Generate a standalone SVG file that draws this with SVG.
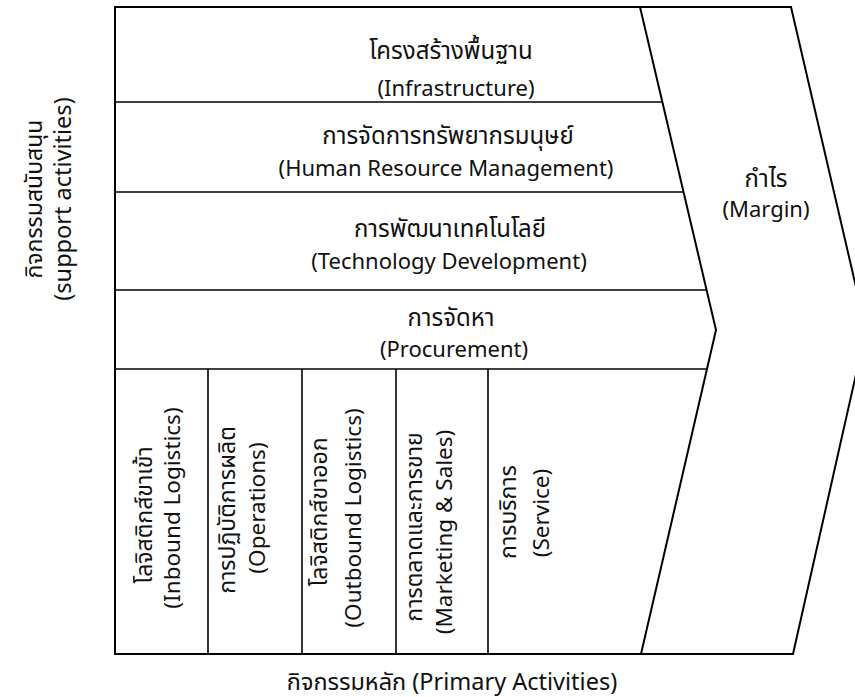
<svg xmlns="http://www.w3.org/2000/svg" width="855" height="697" viewBox="0 0 855 697">
<style>
.ln{stroke:#000;stroke-width:2;fill:none;stroke-linejoin:miter}
.sep{stroke:#000;stroke-width:1.6;fill:none}
text{font-family:"Noto Sans","Noto Sans Thai",Tahoma,"DejaVu Sans",sans-serif;fill:#111}
.th{font-size:24px}
.en{font-size:22px}
.vth{font-size:23px}
.ven{font-size:22.5px}
.c{text-anchor:middle}
.v{text-anchor:middle;dominant-baseline:central}
</style>
<rect width="855" height="697" fill="#fff"/>
<g id="frame">
<path class="ln" d="M115,7 H791 L866,330 L793,654 H115 Z"/>
<path class="ln" d="M640,7 L716,330 L641,654"/>
</g>
<g id="connectors">
<line class="sep" x1="115" y1="102" x2="662" y2="102"/>
<line class="sep" x1="115" y1="192" x2="683" y2="192"/>
<line class="sep" x1="115" y1="290" x2="706" y2="290"/>
<line class="sep" x1="115" y1="369" x2="707" y2="369"/>
<line class="sep" x1="208" y1="369" x2="208" y2="654"/>
<line class="sep" x1="302" y1="369" x2="302" y2="654"/>
<line class="sep" x1="396" y1="369" x2="396" y2="654"/>
<line class="sep" x1="488" y1="369" x2="488" y2="654"/>
</g>
<g id="infrastructure">
<text class="c th" x="451" y="59">โครงสร้างพื้นฐาน</text>
<text class="c en" x="456" y="96">(Infrastructure)</text>
</g>
<g id="hrm">
<text class="c th" x="448" y="144">การจัดการทรัพยากรมนุษย์</text>
<text class="c en" x="446" y="176">(Human Resource Management)</text>
</g>
<g id="technology">
<text class="c th" x="450" y="237">การพัฒนาเทคโนโลยี</text>
<text class="c en" x="449" y="269">(Technology Development)</text>
</g>
<g id="procurement">
<text class="c th" x="451" y="326">การจัดหา</text>
<text class="c en" x="454" y="357">(Procurement)</text>
</g>
<g id="margin">
<text class="c th" x="766" y="187">กำไร</text>
<text class="c en" x="766" y="217">(Margin)</text>
</g>
<g id="support-label">
<text class="v vth" transform="translate(33,199) rotate(-90)">กิจกรรมสนับสนุน</text>
<text class="v" style="font-size:23.5px" transform="translate(62,199) rotate(-90)">(support activities)</text>
</g>
<g id="inbound">
<text class="v vth" transform="translate(143,515) rotate(-90)">โลจิสติกส์ขาเข้า</text>
<text class="v ven" transform="translate(171,508) rotate(-90)">(Inbound Logistics)</text>
</g>
<g id="operations">
<text class="v vth" transform="translate(226,510) rotate(-90)">การปฏิบัติการผลิต</text>
<text class="v ven" transform="translate(256,508) rotate(-90)">(Operations)</text>
</g>
<g id="outbound">
<text class="v vth" transform="translate(318,512) rotate(-90)">โลจิสติกส์ขาออก</text>
<text class="v ven" transform="translate(352,518) rotate(-90)">(Outbound Logistics)</text>
</g>
<g id="marketing">
<text class="v vth" transform="translate(413,527) rotate(-90)">การตลาดและการขาย</text>
<text class="v ven" transform="translate(443,532) rotate(-90)">(Marketing &amp; Sales)</text>
</g>
<g id="service">
<text class="v vth" transform="translate(507,512) rotate(-90)">การบริการ</text>
<text class="v ven" transform="translate(540,513) rotate(-90)">(Service)</text>
</g>
<g id="primary-label">
<text class="c" x="452" y="690" style="font-size:23.5px">กิจกรรมหลัก (Primary Activities)</text>
</g>
</svg>
